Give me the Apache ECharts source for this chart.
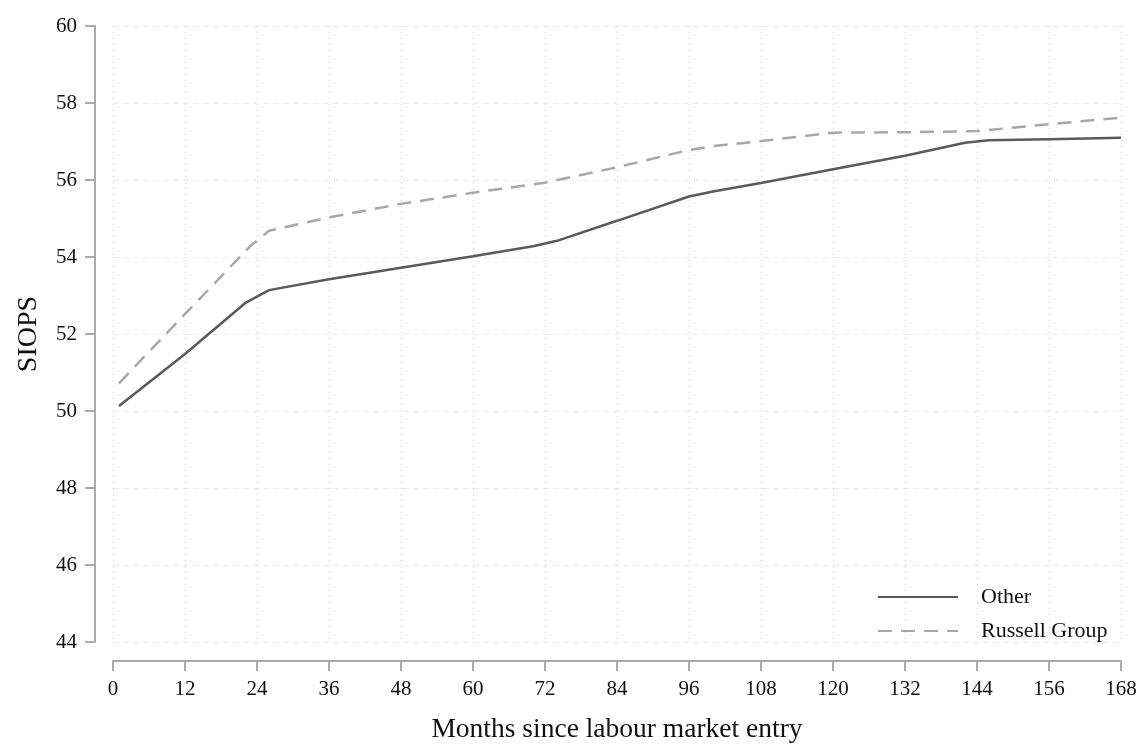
<!DOCTYPE html>
<html>
<head>
<meta charset="utf-8">
<script src="https://cdn.jsdelivr.net/npm/echarts@6/dist/echarts.min.js"></script>
<style>html,body{margin:0;padding:0;background:#fff;}#c{width:1147px;height:744px;}</style>
</head>
<body>
<div id="c"></div>
<script>
const months = [1, 12, 22, 26, 36, 48, 60, 70, 74, 84, 96, 100, 108, 120, 132, 142, 146, 156, 168];
const otherVals = [50.13, 51.48, 52.8, 53.14, 53.42, 53.72, 54.02, 54.28, 54.42, 54.94, 55.57, 55.7, 55.92, 56.28, 56.63, 56.97, 57.03, 57.06, 57.1];
const russellMonths = [1, 12, 23, 26, 36, 48, 60, 72, 84, 96, 100, 108, 120, 132, 144, 156, 168];
const russellVals = [50.72, 52.52, 54.3, 54.68, 55.03, 55.38, 55.67, 55.93, 56.33, 56.78, 56.88, 57.01, 57.23, 57.24, 57.27, 57.45, 57.62];
const seriesNames = ['Other', 'Russell Group'];

const font = '"Liberation Serif", "Times New Roman", serif';
const chart = echarts.init(document.getElementById('c'), null, {renderer: 'canvas'});
chart.setOption({
  animation: false,
  backgroundColor: '#fff',
  grid: {left: 113, right: 26, top: 26, height: 616, containLabel: false, outerBoundsMode: 'none'},
  xAxis: {
    type: 'value', min: 0, max: 168, interval: 12,
    offset: 19,
    name: 'Months since labour market entry',
    nameLocation: 'middle', nameGap: 55,
    nameTextStyle: {fontFamily: font, fontSize: 27.5, color: '#111'},
    axisLine: {show: true, onZero: false, lineStyle: {color: '#aaa', width: 2}},
    axisTick: {show: true, length: 10, lineStyle: {color: '#aaa', width: 2}},
    axisLabel: {fontFamily: font, fontSize: 21, color: '#111', margin: 18},
    splitLine: {show: true, lineStyle: {color: '#c8c8c8', type: [1, 5], width: 1}}
  },
  yAxis: {
    type: 'value', min: 44, max: 60, interval: 2,
    offset: 18,
    name: 'SIOPS',
    nameLocation: 'middle', nameGap: 52, nameMoveOverlap: false,
    nameTextStyle: {fontFamily: font, fontSize: 28, color: '#111'},
    axisLine: {show: true, onZero: false, lineStyle: {color: '#aaa', width: 2}},
    axisTick: {show: true, length: 10, lineStyle: {color: '#aaa', width: 2}},
    axisLabel: {fontFamily: font, fontSize: 21, color: '#111', margin: 18},
    splitLine: {show: true, lineStyle: {color: '#ececec', type: [6, 4], width: 1}}
  },
  legend: {
    orient: 'vertical', left: 872, top: 581, itemGap: 12,
    itemWidth: 80, itemHeight: 14,
    itemStyle: {opacity: 0},
    textStyle: {fontFamily: font, fontSize: 22, color: '#111', padding: [0, 0, 0, 18]},
    data: seriesNames
  },
  series: [
    {
      name: seriesNames[0], type: 'line', symbol: 'none',
      data: months.map((m, i) => [m, otherVals[i]]),
      lineStyle: {color: '#5a5a5a', width: 2.5, type: 'solid'},
      itemStyle: {color: '#5a5a5a'}
    },
    {
      name: seriesNames[1], type: 'line', symbol: 'none',
      data: russellMonths.map((m, i) => [m, russellVals[i]]),
      lineStyle: {color: '#a8a8a8', width: 2.5, type: [14, 9]},
      itemStyle: {color: '#a8a8a8'}
    }
  ]
});
</script>
</body>
</html>
